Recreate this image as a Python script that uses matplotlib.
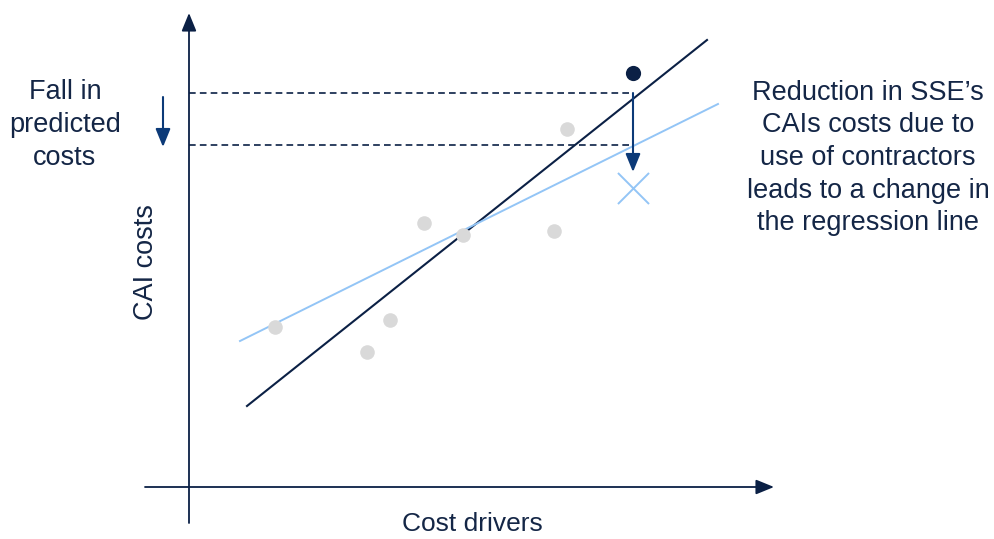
import matplotlib.pyplot as plt

plt.rcParams['font.family'] = ['Liberation Sans', 'DejaVu Sans']

# schematic coordinates (pixel-like units, y grows downward)
obs_x = [275, 367, 390, 424, 463, 554, 567]
obs_y = [327, 352, 320, 223, 235, 231, 129]
sse_point = (633, 73)
sse_new = (633, 188)
old_line_x = [247, 707]
old_line_y = [406, 40]
new_line_x = [240, 718]
new_line_y = [341, 104]
pred_old = 93
pred_new = 145

navy = '#0b2045'
text_col = '#142646'
light_blue = '#93c5f6'
grey = '#d9d9d9'
arrow_col = '#0c3a78'

fig = plt.figure(figsize=(9.94, 5.39), dpi=100)
ax = fig.add_axes([0, 0, 1, 1])
ax.set_xlim(0, 994)
ax.set_ylim(539, 0)
ax.axis('off')

head = '-|>,head_length=1.1,head_width=0.45'

# axes with arrows
ax.annotate('', xy=(189, 13), xytext=(189, 523),
            arrowprops=dict(arrowstyle=head, color=navy, lw=1.3, shrinkA=0, shrinkB=0))
ax.annotate('', xy=(774, 487), xytext=(145, 487),
            arrowprops=dict(arrowstyle=head, color=navy, lw=1.3, shrinkA=0, shrinkB=0))

# regression lines
ax.plot(old_line_x, old_line_y, color=navy, lw=1.5)
ax.plot(new_line_x, new_line_y, color=light_blue, lw=1.4)

# observations
ax.scatter(obs_x, obs_y, s=110, color=grey, zorder=3, linewidths=0)
ax.scatter([sse_point[0]], [sse_point[1]], s=120, color=navy, zorder=4, linewidths=0)
ax.scatter([sse_new[0]], [sse_new[1]], s=500, marker='x', color=light_blue, lw=1.4, zorder=4)

# predicted cost levels
ax.plot([189, sse_point[0]], [pred_old, pred_old], color=navy, lw=1.2, ls=(0, (4, 2.5)))
ax.plot([189, sse_point[0]], [pred_new, pred_new], color=navy, lw=1.2, ls=(0, (4, 2.5)))
ax.annotate('', xy=(sse_point[0], 172), xytext=(sse_point[0], pred_old),
            arrowprops=dict(arrowstyle=head, color=arrow_col, lw=1.5, shrinkA=0, shrinkB=0))
ax.annotate('', xy=(163, 147), xytext=(163, 97),
            arrowprops=dict(arrowstyle=head, color=arrow_col, lw=1.5, shrinkA=0, shrinkB=0))

# text
ax.text(65, 125, 'Fall in\npredicted\ncosts', ha='center', va='center',
        fontsize=19.5, color=text_col, linespacing=1.33)
ax.text(868, 158, 'Reduction in SSE\u2019s\nCAIs costs due to\nuse of contractors\nleads to a change in\nthe regression line',
        ha='center', va='center', fontsize=19.5, color=text_col, linespacing=1.33)
ax.text(146, 262, 'CAI costs', ha='center', va='center', rotation=90,
        fontsize=19.5, color=text_col)
ax.text(472, 512, 'Cost drivers', ha='center', va='top',
        fontsize=19, color=text_col)

fig.savefig('out.png', dpi=100)
